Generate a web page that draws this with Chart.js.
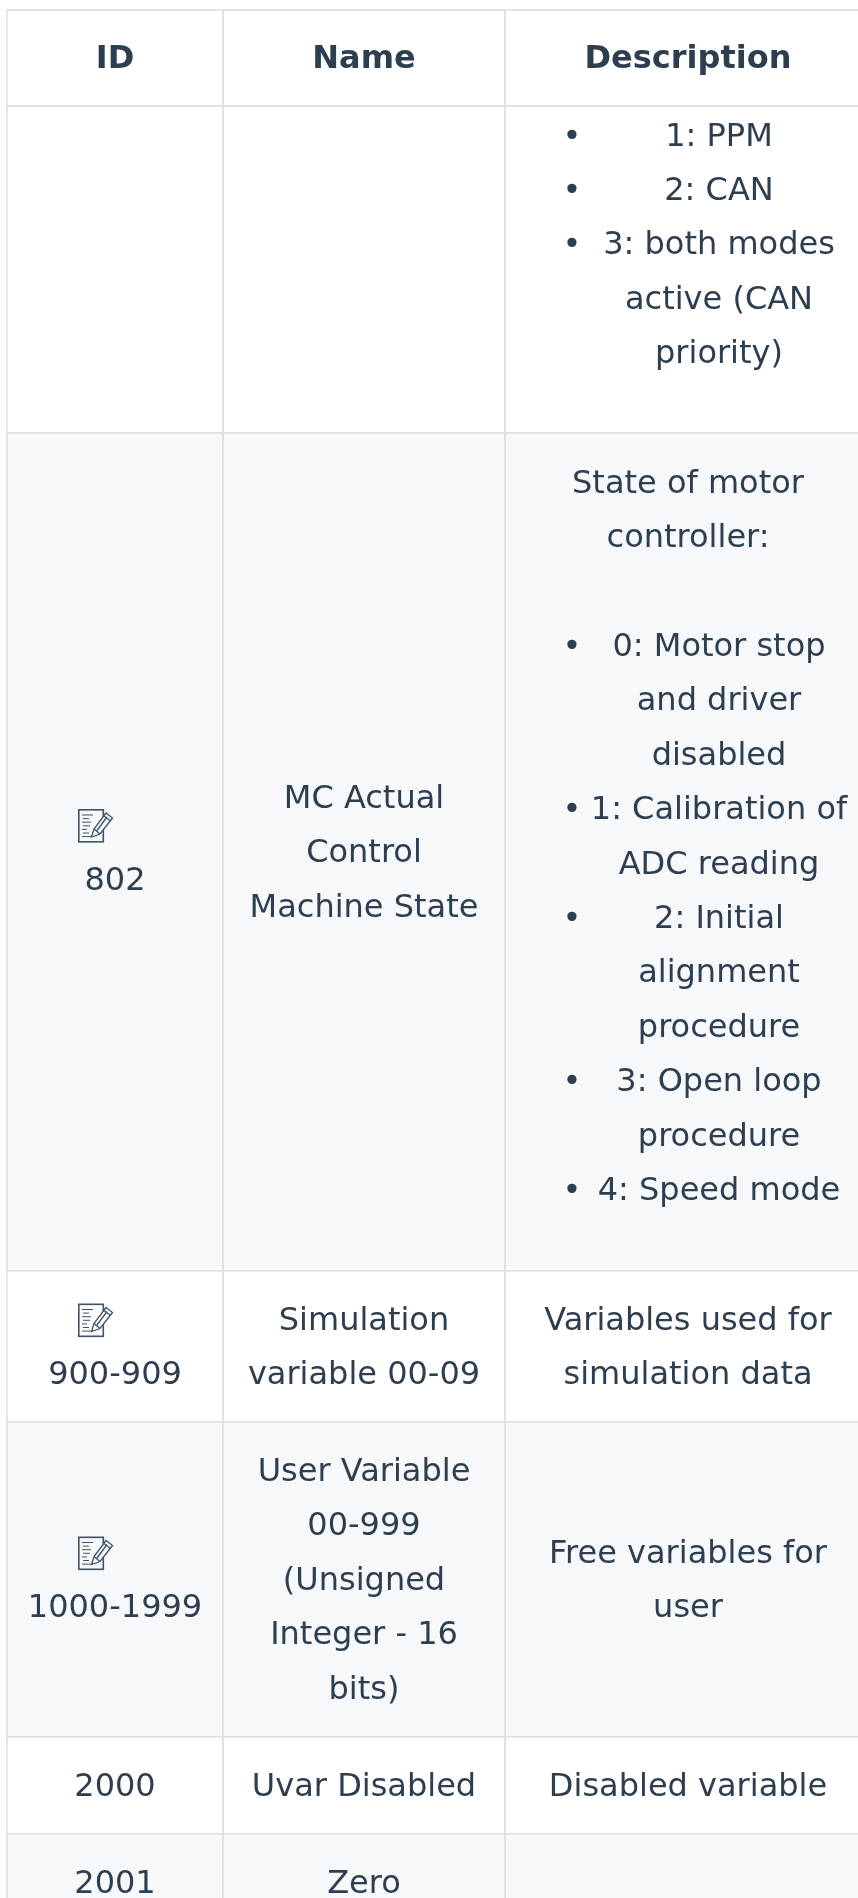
<!DOCTYPE html>
<html>
<head>
<meta charset="utf-8">
<title>Variables</title>
<script src="https://cdn.jsdelivr.net/npm/chart.js@4/dist/chart.umd.min.js"></script>
<style>
  html, body { margin: 0; padding: 0; background: #fff; overflow: hidden; }
  canvas { display: block; }
</style>
</head>
<body>
<canvas id="tableChart" width="858" height="1898"></canvas>
<script>
const headers = ['ID', 'Name', 'Description'];

// one entry per row, header excluded
const idLines = [
    [],
    ['802'],
    ['900-909'],
    ['1000-1999'],
    ['2000'],
    ['2001']
];
const hasNoteIcon = [false, true, true, true, false, false];
const nameLines = [
    [],
    ['MC Actual', 'Control', 'Machine State'],
    ['Simulation', 'variable 00-09'],
    ['User Variable', '00-999', '(Unsigned', 'Integer - 16', 'bits)'],
    ['Uvar Disabled'],
    ['Zero']
];
// "* " starts a list item, "  " continues one
const descLines = [
    ['* 1: PPM', '* 2: CAN', '* 3: both modes', '  active (CAN', '  priority)'],
    ['State of motor', 'controller:', '', '* 0: Motor stop', '  and driver', '  disabled',
     '* 1: Calibration of', '  ADC reading', '* 2: Initial', '  alignment', '  procedure',
     '* 3: Open loop', '  procedure', '* 4: Speed mode'],
    ['Variables used for', 'simulation data'],
    ['Free variables for', 'user'],
    ['Disabled variable'],
    []
];

// heights, header first
const rowHeights = [96, 327, 838, 151, 315, 97, 97];
const columnWidths = [217, 282, 366];

const textColor = '#2c3e50';
const lineColor = '#dfe2e5';
const stripeColor = '#f6f8fa';
const lineStep = 54.4;
const textDrop = 3;
const font = '"DejaVu Sans", Verdana, sans-serif';

const columnEdges = columnWidths.map((w, i) => columnWidths.slice(0, i + 1).reduce((a, b) => a + b, 0));
const rowColors = ['#ffffff', '#ffffff', stripeColor, '#ffffff', stripeColor, '#ffffff', stripeColor];

function drawNoteIcon(ctx, x, y, bg) {
    ctx.save();
    ctx.translate(x, y);
    ctx.strokeStyle = '#3f5368';
    ctx.lineWidth = 1.6;
    ctx.strokeRect(0.8, 0.8, 24.5, 32);
    ctx.lineWidth = 1;
    [[4, 15], [5, 11], [4, 13], [5, 12], [4, 9], [5, 11], [4, 13]].forEach((l, i) => {
        ctx.beginPath();
        ctx.moveTo(l[0], 6 + i * 3.6);
        ctx.lineTo(l[1], 6 + i * 3.6);
        ctx.stroke();
    });
    // pencil
    ctx.fillStyle = bg;
    ctx.lineWidth = 1.3;
    ctx.beginPath();
    ctx.moveTo(13.5, 28);
    ctx.lineTo(16, 20);
    ctx.lineTo(28, 4);
    ctx.lineTo(34.5, 9);
    ctx.lineTo(22, 25);
    ctx.closePath();
    ctx.fill();
    ctx.stroke();
    ctx.beginPath();
    ctx.moveTo(16, 20);
    ctx.lineTo(22, 25);
    ctx.moveTo(26, 7);
    ctx.lineTo(32.5, 12);
    ctx.moveTo(19, 21.5);
    ctx.lineTo(29, 8);
    ctx.stroke();
    ctx.restore();
}

function drawCell(ctx, lines, cx, cy) {
    lines.forEach((line, i) => {
        const y = cy + (i - (lines.length - 1) / 2) * lineStep;
        if (line === '') return;
        if (line.startsWith('* ') || line.startsWith('  ')) {
            if (line.startsWith('* ')) ctx.fillText('\u2022', cx - 116, y);
            ctx.fillText(line.slice(2), cx + 31, y);
        } else {
            ctx.fillText(line, cx, y);
        }
    });
}

const tableText = {
    id: 'tableText',
    afterDatasetsDraw(chart) {
        const ctx = chart.ctx;
        const y = chart.scales.y;
        const col = chart.scales.col;
        const centers = columnEdges.map((e, i) => Math.ceil(col.getPixelForValue(e - columnWidths[i] / 2)));

        ctx.save();
        ctx.fillStyle = textColor;
        ctx.textAlign = 'center';
        ctx.textBaseline = 'middle';

        ctx.font = 'bold 32px ' + font;
        headers.forEach((h, i) => ctx.fillText(h, centers[i], y.getPixelForValue(rowHeights[0] / 2) + textDrop));

        ctx.font = '32px ' + font;
        let top = rowHeights[0];
        idLines.forEach((ids, r) => {
            const mid = y.getPixelForValue(top + rowHeights[r + 1] / 2) + textDrop;
            // lists keep a bottom margin, the first row is also cut at the top
            const lift = r === 0 ? 25.5 : r === 1 ? 16 : 0;
            if (hasNoteIcon[r]) {
                drawNoteIcon(ctx, centers[0] - 37, mid - 45, rowColors[r + 1]);
                drawCell(ctx, ids, centers[0], mid + lineStep / 2);
            } else {
                drawCell(ctx, ids, centers[0], mid);
            }
            drawCell(ctx, nameLines[r], centers[1], mid);
            drawCell(ctx, descLines[r], centers[2], mid - lift);
            top += rowHeights[r + 1];
        });
        ctx.restore();
    }
};

new Chart(document.getElementById('tableChart'), {
    type: 'bar',
    data: {
        labels: ['table'],
        datasets: rowHeights.map((h, i) => ({
            label: 'row ' + i,
            data: [h],
            backgroundColor: rowColors[i],
            borderColor: lineColor,
            borderWidth: { top: 2, left: 2, right: 0, bottom: 0 },
            borderSkipped: false,
            barPercentage: 1,
            categoryPercentage: 1
        }))
    },
    options: {
        responsive: false,
        animation: false,
        layout: { padding: { left: 6, top: 9 } },
        plugins: { legend: { display: false }, tooltip: { enabled: false } },
        scales: {
            x: { stacked: true, display: false },
            y: { stacked: true, display: false, reverse: true, min: 0, max: 1889 },
            col: {
                type: 'linear',
                axis: 'x',
                position: 'bottom',
                offset: false,
                min: 0,
                max: 852,
                afterBuildTicks: scale => {
                    scale.ticks = columnEdges.slice(0, 2).map(v => ({ value: v }));
                },
                border: { display: false },
                ticks: { display: false },
                grid: { color: lineColor, lineWidth: 2, drawTicks: false, offset: false, z: 1 }
            }
        }
    },
    plugins: [tableText]
});
</script>
</body>
</html>
